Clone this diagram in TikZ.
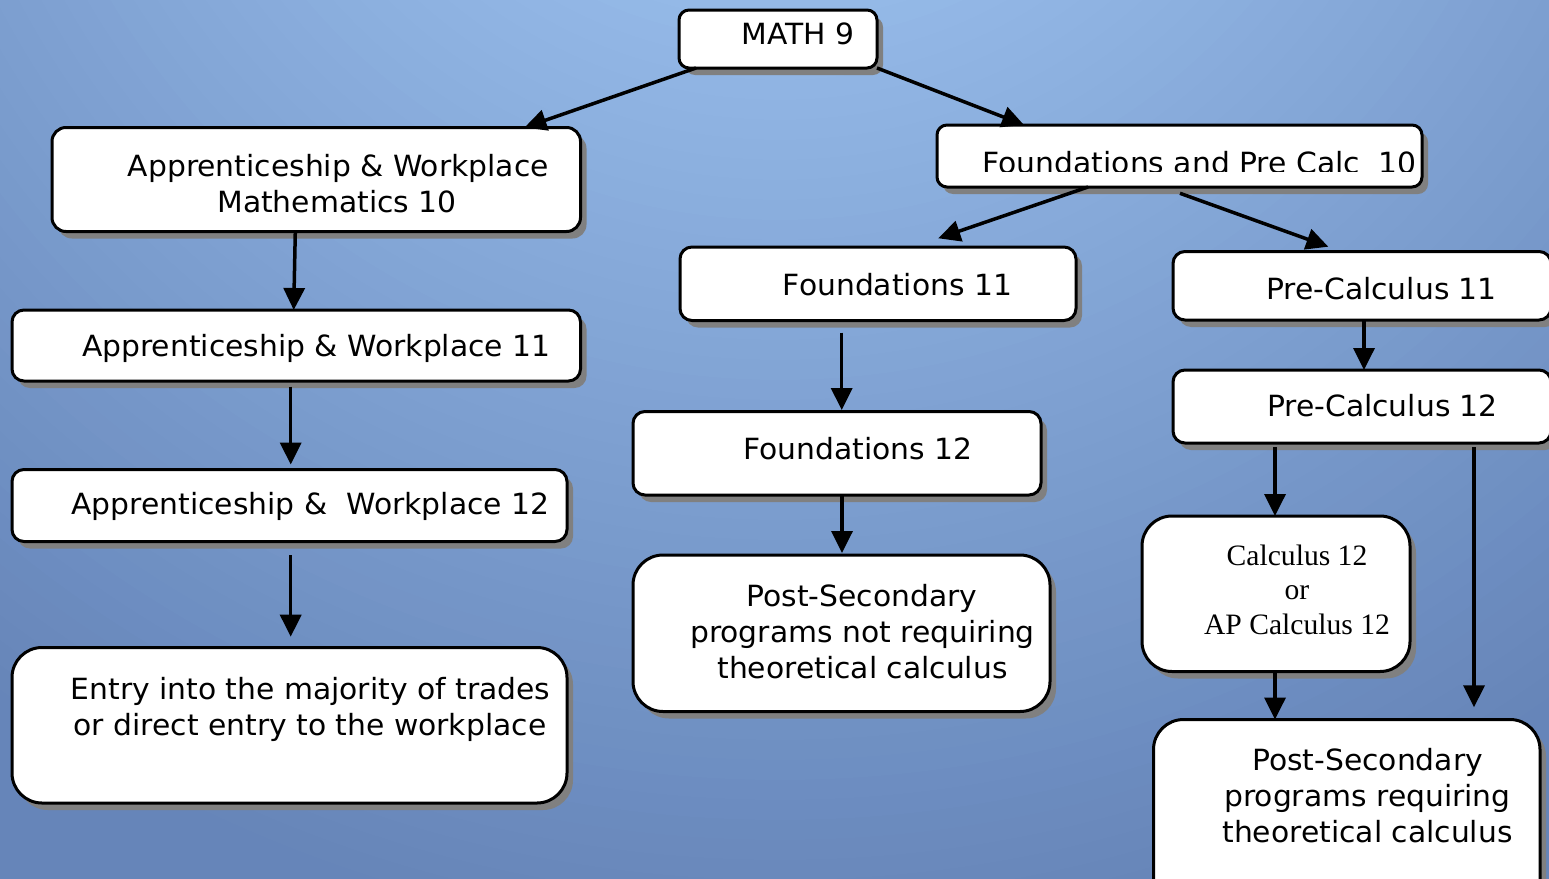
\documentclass[tikz,border=0pt]{standalone}
\usepackage{fontspec}
\setmainfont[FakeStretch=1.02]{DejaVu Sans}
\newfontfamily\calcfont{Liberation Serif}
\usetikzlibrary{arrows.meta,shadows,calc}
\definecolor{bgin}{RGB}{169,208,252}
\definecolor{bgout}{RGB}{102,133,185}
\definecolor{shadowgray}{RGB}{128,128,128}
\tikzset{
 box/.style={draw=black, line width=3pt, fill=white, inner sep=0pt, outer sep=0pt,
   anchor=north west, rounded corners=#1,
   drop shadow={shadow xshift=6pt, shadow yshift=-7pt, fill=shadowgray, opacity=1}},
 box/.default=12pt,
 lbl/.style={inner sep=0pt, outer sep=0pt, anchor=base, font=\fontsize{29.2}{35}\selectfont},
 slbl/.style={inner sep=0pt, outer sep=0pt, anchor=base, font=\calcfont\fontsize{29.6}{35}\selectfont},
 arr/.style={line width=3.5pt, -{Triangle[length=22pt,width=21pt]}},
}
\begin{document}
\begin{tikzpicture}[x=1pt,y=-1pt]
\useasboundingbox (0,0) rectangle (1549,878);
\clip (0,0) rectangle (1549,878);
% background: radial gradient, light at top centre
\foreach \r in {1600,1580,...,20} {
  \pgfmathsetmacro{\pc}{min(100,\r/13.5)}
  \fill[bgout!\pc!bgin] (780,-400) circle [radius=\r pt];
}

% boxes
\node[box=10pt, minimum width=198pt, minimum height=58pt] (m9) at (679,10) {};
\node[box=14pt, minimum width=528.5pt, minimum height=104pt] (aw10) at (52,127.5) {};
\node[box=10pt, minimum width=485pt, minimum height=62pt] (fpc10) at (937,125) {};
\node[box, minimum width=568.5pt, minimum height=71pt] (aw11) at (12,310) {};
\node[box, minimum width=555pt, minimum height=72pt] (aw12) at (12,469.5) {};
\node[box=30pt, minimum width=555pt, minimum height=155.5pt] (entry) at (12,647.5) {};
\node[box, minimum width=396pt, minimum height=73.5pt] (f11) at (680,247) {};
\node[box, minimum width=408pt, minimum height=83.5pt] (f12) at (633,411.5) {};
\node[box=30pt, minimum width=417pt, minimum height=156.5pt] (psnr) at (633,555) {};
\node[box, minimum width=378pt, minimum height=68.5pt] (pc11) at (1173,251.5) {};
\node[box, minimum width=378pt, minimum height=73pt] (pc12) at (1173,370) {};
\node[box=30pt, minimum width=268pt, minimum height=155.5pt] (calc) at (1142,516) {};
\node[box=30pt, minimum width=386.5pt, minimum height=190pt] (psr) at (1153.5,719.5) {};

% texts
\node[lbl] (m9t) at (798,44) {MATH 9};
\node[lbl] (aw10t1) at (338.3,176) {Apprenticeship \& Workplace};
\node[lbl] (aw10t2) at (337,212.3) {Mathematics 10};
\begin{scope}
\clip (930,100) rectangle (1430,171.8);
\node[lbl] (fpc10t) at (1199.7,173.3) {Foundations and Pre Calc\ \ 10};
\end{scope}
\node[lbl] (aw11t) at (316.3,356.7) {Apprenticeship \& Workplace 11};
\node[lbl] (aw12t) at (310.5,514.3) {Apprenticeship \&\ \ Workplace 12};
\node[lbl] (entryt1) at (310.5,699.3) {Entry into the majority of trades};
\node[lbl] (entryt2) at (310,735) {or direct entry to the workplace};
\node[lbl] (f11t) at (897.5,295) {Foundations 11};
\node[lbl] (f12t) at (857.8,459) {Foundations 12};
\node[lbl] (psnrt1) at (862,606.7) {Post-Secondary};
\node[lbl] (psnrt2) at (862.5,642) {programs not requiring};
\node[lbl] (psnrt3) at (862.5,678) {theoretical calculus};
\node[lbl] (pc11t) at (1381.5,299.3) {Pre-Calculus 11};
\node[lbl] (pc12t) at (1382.5,416.7) {Pre-Calculus 12};
\node[slbl] (calct1) at (1297,565) {Calculus 12};
\node[slbl] (calct2) at (1297,599) {or};
\node[slbl] (calct3) at (1297,634) {AP Calculus 12};
\node[lbl] (psrt1) at (1367.5,770.7) {Post-Secondary};
\node[lbl] (psrt2) at (1367.5,806) {programs requiring};
\node[lbl] (psrt3) at (1367.5,842.3) {theoretical calculus};

% connectors
\draw[arr] ([xshift=17pt]m9.south west) -- ([xshift=-56pt]aw10.north east);
\draw[arr] (m9.south east) -- ([xshift=87pt]fpc10.north west);
\draw[arr] ([xshift=243.3pt]aw10.south west) -- ([xshift=281.7pt]aw11.north west);
\draw[arr] ([xshift=278.7pt,yshift=-5.7pt]aw11.south west) -- ([xshift=278.7pt,yshift=5pt]aw12.north west);
\draw[arr] ([xshift=278.7pt,yshift=-13.5pt]aw12.south west) -- ([xshift=278.7pt,yshift=10.8pt]entry.north west);
\draw[arr] ([xshift=151pt]fpc10.south west) -- ([xshift=258.3pt,yshift=8.7pt]f11.north west);
\draw[arr] ([xshift=243pt,yshift=-6.3pt]fpc10.south west) -- ([xshift=155.3pt,yshift=4.8pt]pc11.north west);
\draw[arr] ([xshift=161.7pt,yshift=-12.2pt]f11.south west) -- ([xshift=208.7pt,yshift=1.5pt]f12.north west);
\draw[arr] ([xshift=209pt]f12.south west) -- ([xshift=209pt,yshift=2pt]psnr.north west);
\draw[arr] ([xshift=191pt]pc11.south west) -- ([xshift=191pt]pc12.north west);
\draw[arr] ([xshift=102pt,yshift=-4pt]pc12.south west) -- ([xshift=133pt]calc.north west);
\draw[arr] ([xshift=301pt,yshift=-4pt]pc12.south west) -- ([xshift=320.5pt,yshift=12.2pt]psr.north west);
\draw[arr] ([xshift=133pt]calc.south west) -- ([xshift=121.5pt]psr.north west);
\end{tikzpicture}
\end{document}
